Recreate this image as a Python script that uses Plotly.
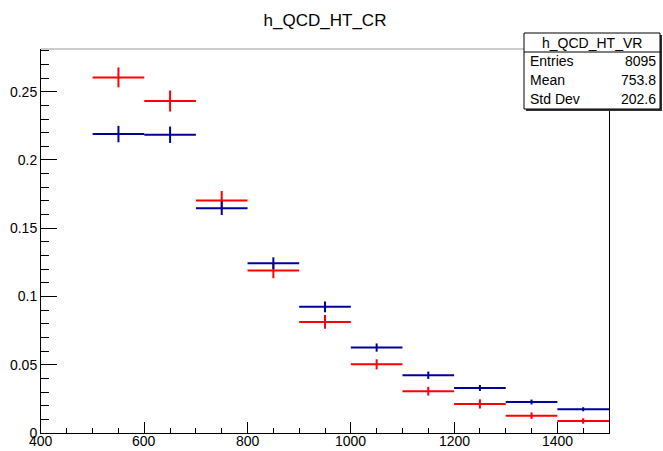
import plotly.graph_objects as go

# ---- data ----
bin_centers = [550, 650, 750, 850, 950, 1050, 1150, 1250, 1350, 1450]
bin_width = 100
red_vals = [0.2605, 0.2432, 0.1703, 0.1190, 0.0814, 0.0503, 0.0306, 0.0213, 0.0127, 0.0088]
red_errs = [0.0073, 0.0077, 0.0070, 0.0056, 0.0050, 0.0037, 0.0032, 0.0034, 0.0024, 0.0020]
blue_vals = [0.2190, 0.2185, 0.1647, 0.1244, 0.0924, 0.0626, 0.0423, 0.0330, 0.0227, 0.0174]
blue_errs = [0.0060, 0.0060, 0.0050, 0.0043, 0.0039, 0.0030, 0.0027, 0.0022, 0.0018, 0.0015]
x_tick_vals = [400, 600, 800, 1000, 1200, 1400]

title_text = "h_QCD_HT_CR"
stats_title = "h_QCD_HT_VR"
stats_labels = ["Entries", "Mean", "Std Dev"]
stats_values = ["8095", "753.8", "202.6"]

FONT = "Liberation Sans, Arial, Helvetica, sans-serif"

fig = go.Figure()

def add_hist(vals, errs, color):
    fig.add_trace(go.Scatter(
        x=bin_centers, y=vals, mode="markers",
        marker=dict(size=1, color=color, opacity=0),
        error_x=dict(type="constant", value=bin_width / 2, width=0, thickness=2, color=color),
        error_y=dict(type="data", array=errs, visible=True, width=0, thickness=2, color=color),
        showlegend=False, hoverinfo="skip",
    ))

add_hist(red_vals, red_errs, "#ff0000")
add_hist(blue_vals, blue_errs, "#000099")

W, H = 663, 451
L, R, T, B = 41, 54, 49, 18
pw, ph = W - L - R, H - T - B

def px(x):
    return (x - L) / pw

def py(y):
    return (H - B - y) / ph

fig.update_layout(
    width=W, height=H,
    margin=dict(l=L, r=R, t=T, b=B, pad=0, autoexpand=False),
    paper_bgcolor="white", plot_bgcolor="white",
    font=dict(family=FONT, size=14, color="black"),
    title=dict(text=title_text, x=0.5, xref="paper", xanchor="center",
               y=1 - 20 / H, yref="container", yanchor="middle",
               font=dict(family=FONT, size=17, color="black")),
    xaxis=dict(range=[400, 1500], tickmode="array", tickvals=x_tick_vals,
               showticklabels=False, automargin=False,
               ticks="inside", ticklen=11, tickwidth=1, tickcolor="black",
               showline=True, linecolor="black", linewidth=1, mirror=False,
               showgrid=False, zeroline=False,
               minor=dict(ticks="inside", ticklen=5, tickwidth=1, tickcolor="black",
                          dtick=50, tick0=400, showgrid=False)),
    yaxis=dict(range=[0, 0.2813], tickmode="linear", tick0=0, dtick=0.05,
               automargin=False,
               ticks="inside", ticklen=16, tickwidth=1, tickcolor="black",
               showline=True, linecolor="black", linewidth=1, mirror=True,
               showgrid=False, zeroline=False,
               minor=dict(ticks="inside", ticklen=8, tickwidth=1, tickcolor="black",
                          dtick=0.01, tick0=0, showgrid=False),
               tickfont=dict(family=FONT, size=14, color="black")),
)

# x tick labels placed just below the axis (ROOT style, tight to the bottom edge)
for v in x_tick_vals:
    fig.add_annotation(text=str(v), xref="x", yref="paper", x=v, y=0,
                       xanchor="center", yanchor="middle", yshift=-8,
                       showarrow=False, font=dict(family=FONT, size=14, color="black"))

# top frame line (grey)
fig.add_shape(type="line", xref="paper", yref="paper", x0=0, x1=1, y0=1, y1=1,
              line=dict(color="#999999", width=1), layer="above")

# stats box
bx0, bx1, by0, by1 = 524, 660, 33, 109
fig.add_shape(type="rect", xref="paper", yref="paper",
              x0=px(bx0) + 2 / pw, x1=px(bx1) + 2 / pw, y0=py(by1) - 2 / ph, y1=py(by0) - 2 / ph,
              fillcolor="#333333", line=dict(width=0), layer="above")
fig.add_shape(type="rect", xref="paper", yref="paper",
              x0=px(bx0), x1=px(bx1), y0=py(by1), y1=py(by0),
              fillcolor="white", line=dict(color="black", width=1), layer="above")
fig.add_shape(type="line", xref="paper", yref="paper",
              x0=px(bx0), x1=px(bx1), y0=py(52), y1=py(52),
              line=dict(color="black", width=1), layer="above")

fig.add_annotation(text=stats_title, xref="paper", yref="paper",
                   x=px((bx0 + bx1) / 2), y=py(43), xanchor="center", yanchor="middle",
                   showarrow=False, font=dict(family=FONT, size=14, color="black"))
row_y = [61, 80, 99]
for lab, val, yy in zip(stats_labels, stats_values, row_y):
    fig.add_annotation(text=lab, xref="paper", yref="paper", x=px(528), y=py(yy),
                       xanchor="left", yanchor="middle", showarrow=False,
                       font=dict(family=FONT, size=14, color="black"))
    fig.add_annotation(text=val, xref="paper", yref="paper", x=px(658), y=py(yy),
                       xanchor="right", yanchor="middle", showarrow=False,
                       font=dict(family=FONT, size=14, color="black"))

fig.write_html("out.html")
